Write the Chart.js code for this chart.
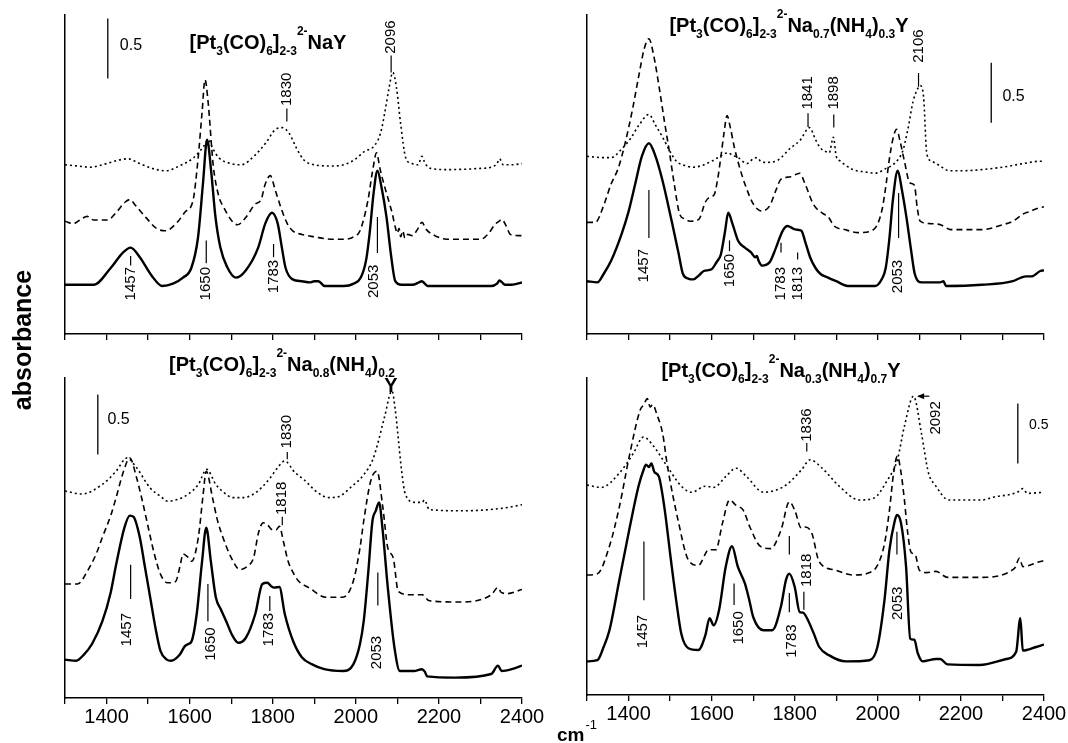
<!DOCTYPE html>
<html>
<head>
<meta charset="utf-8">
<script src="https://cdn.jsdelivr.net/npm/chart.js@4.4.1/dist/chart.umd.min.js"></script>
<style>
  html, body { margin: 0; padding: 0; background: #fff; }
  #wrap { position: relative; width: 1068px; height: 743px; overflow: hidden; background: #fff; }
  #wrap canvas { position: absolute; left: 0; top: 0; }
</style>
</head>
<body>
<div id="wrap">
  <canvas id="tl" width="1068" height="743"></canvas>
  <canvas id="tr" width="1068" height="743"></canvas>
  <canvas id="bl" width="1068" height="743"></canvas>
  <canvas id="br" width="1068" height="743"></canvas>
</div>
<script>
// ---- spectra: wavenumber (cm-1) / absorbance (offset) ----
const labeledTicks = [1400, 1600, 1800, 2000, 2200, 2400];

// top left: NaY
const tlSolidWn  = [1300,1369,1410,1440,1458,1480,1510,1534,1560,1584,1604,1620,1632,1642,1652,1662,1674,1690,1711,1735,1765,1782,1798,1812,1822,1831,1848,1870,1889,1900,1910,1925,1971,1995,2012,2025,2033,2043,2052,2062,2074,2085,2095,2110,2136,2152,2159,2166,2173,2326,2340,2346,2352,2359,2375,2400];
const tlSolidAbs = [0.41,0.41,0.55,0.68,0.72,0.64,0.48,0.40,0.42,0.47,0.55,0.80,1.25,1.62,1.35,0.98,0.72,0.56,0.47,0.53,0.72,0.92,1.01,0.92,0.72,0.55,0.455,0.44,0.43,0.44,0.44,0.40,0.40,0.42,0.47,0.62,0.83,1.18,1.36,1.22,0.97,0.65,0.44,0.41,0.41,0.43,0.44,0.42,0.40,0.40,0.42,0.447,0.43,0.41,0.41,0.43];
const tlDashWn   = [1300,1320,1340,1353,1369,1402,1425,1445,1456,1470,1495,1520,1542,1570,1590,1608,1620,1630,1637,1644,1657,1670,1683,1700,1715,1735,1757,1772,1782,1794,1806,1820,1835,1848,1870,1900,1940,1971,1995,2010,2029,2040,2050,2058,2070,2080,2088,2095,2100,2104,2108,2113,2118,2125,2136,2150,2159,2170,2190,2219,2301,2320,2334,2345,2351,2362,2372,2392,2400];
const tlDashAbs  = [0.94,0.92,0.96,0.98,0.95,0.95,1.02,1.10,1.12,1.07,0.97,0.88,0.86,0.93,1.02,1.11,1.45,1.85,2.12,1.95,1.40,1.15,1.05,0.95,0.91,0.97,1.08,1.12,1.25,1.32,1.20,1.05,0.92,0.86,0.83,0.81,0.79,0.79,0.81,0.86,1.11,1.35,1.51,1.38,1.22,1.10,1.00,0.89,0.84,0.88,0.81,0.86,0.80,0.83,0.82,0.88,0.93,0.87,0.82,0.79,0.79,0.84,0.91,0.94,0.955,0.90,0.83,0.82,0.82];
const tlDotWn    = [1300,1330,1360,1400,1430,1452,1480,1510,1542,1575,1610,1633,1645,1655,1670,1700,1724,1760,1785,1805,1823,1840,1857,1875,1900,1940,1971,2000,2020,2045,2060,2070,2080,2089,2098,2108,2120,2135,2150,2159,2167,2180,2219,2300,2326,2340,2346,2355,2375,2400];
const tlDotAbs   = [1.41,1.40,1.39,1.42,1.45,1.46,1.42,1.38,1.36,1.40,1.47,1.56,1.62,1.55,1.47,1.42,1.41,1.50,1.60,1.70,1.72,1.67,1.55,1.45,1.41,1.40,1.41,1.46,1.52,1.57,1.68,1.85,2.05,2.18,2.05,1.75,1.47,1.42,1.41,1.48,1.42,1.38,1.37,1.38,1.39,1.42,1.46,1.41,1.41,1.42];

// top right: Na0.7(NH4)0.3Y
const trSolidWn  = [1300,1325,1340,1358,1383,1400,1416,1432,1449,1465,1482,1495,1507,1520,1531,1545,1556,1570,1581,1600,1612,1622,1632,1640,1650,1664,1680,1695,1705,1709,1713,1721,1740,1755,1771,1783,1795,1804,1816,1826,1837,1850,1862,1880,1900,1928,1994,2010,2019,2028,2036,2048,2058,2069,2080,2089,2106,2150,2158,2164,2250,2325,2345,2357,2370,2391,2400];
const trSolidAbs = [0.44,0.43,0.50,0.61,0.83,1.02,1.25,1.48,1.59,1.48,1.275,1.08,0.89,0.68,0.50,0.46,0.455,0.49,0.525,0.54,0.60,0.66,0.85,1.01,0.92,0.775,0.72,0.68,0.64,0.65,0.61,0.57,0.60,0.72,0.86,0.90,0.88,0.87,0.86,0.76,0.64,0.55,0.50,0.47,0.44,0.40,0.40,0.46,0.55,0.80,1.11,1.36,1.20,0.97,0.70,0.50,0.43,0.43,0.44,0.40,0.41,0.44,0.47,0.48,0.48,0.525,0.53];
const trDashWn   = [1300,1320,1340,1358,1375,1391,1410,1424,1438,1449,1460,1474,1486,1498,1510,1523,1535,1548,1569,1585,1595,1606,1614,1622,1630,1637,1645,1655,1668,1680,1701,1721,1740,1755,1767,1790,1812,1825,1845,1870,1880,1895,1920,1953,1985,2000,2011,2020,2027,2036,2045,2054,2064,2077,2088,2095,2102,2125,2151,2176,2250,2300,2325,2350,2365,2387,2400];
const trDashAbs  = [0.93,0.93,1.07,1.25,1.38,1.58,1.88,2.14,2.38,2.46,2.33,2.05,1.78,1.525,1.25,1.00,0.96,0.94,0.955,1.10,1.14,1.16,1.28,1.47,1.68,1.82,1.72,1.55,1.38,1.25,1.08,1.025,1.07,1.20,1.29,1.31,1.34,1.25,1.08,1.00,0.98,0.90,0.87,0.845,0.86,0.92,1.05,1.25,1.44,1.62,1.705,1.60,1.44,1.26,1.24,1.05,0.94,0.92,0.91,0.87,0.87,0.91,0.94,1.00,1.02,1.05,1.06];
const trDotWn    = [1300,1340,1358,1383,1405,1425,1449,1465,1482,1500,1515,1540,1556,1600,1625,1639,1650,1664,1685,1700,1709,1718,1730,1760,1790,1812,1836,1850,1862,1875,1883,1893,1900,1910,1940,1970,1994,2020,2036,2050,2060,2072,2085,2094,2102,2110,2118,2130,2150,2172,2200,2250,2300,2350,2391,2400];
const trDotAbs   = [1.48,1.47,1.47,1.54,1.63,1.74,1.83,1.74,1.64,1.52,1.44,1.40,1.39,1.44,1.49,1.51,1.49,1.47,1.42,1.46,1.47,1.44,1.43,1.45,1.55,1.61,1.72,1.62,1.55,1.52,1.51,1.64,1.48,1.44,1.37,1.35,1.34,1.38,1.41,1.46,1.525,1.70,1.94,2.03,2.07,1.98,1.50,1.44,1.40,1.36,1.36,1.37,1.39,1.42,1.44,1.44];

// bottom left: Na0.8(NH4)0.2Y
const blSolidWn  = [1300,1327,1345,1365,1390,1410,1423,1443,1456,1465,1480,1492,1505,1518,1530,1545,1555,1576,1588,1597,1605,1617,1630,1640,1651,1663,1675,1688,1703,1717,1735,1758,1775,1787,1797,1804,1816,1829,1849,1870,1895,1924,1969,1994,2010,2019,2030,2040,2048,2056,2064,2077,2093,2106,2140,2159,2166,2172,2240,2326,2342,2351,2375,2400];
const blSolidAbs = [0.32,0.31,0.36,0.45,0.64,0.88,1.11,1.42,1.52,1.51,1.34,1.10,0.84,0.58,0.39,0.32,0.31,0.36,0.43,0.45,0.475,0.70,1.14,1.42,1.14,0.84,0.74,0.64,0.52,0.46,0.50,0.70,0.95,0.96,0.93,0.92,0.925,0.70,0.475,0.34,0.28,0.24,0.225,0.28,0.45,0.64,1.05,1.475,1.56,1.63,1.42,0.92,0.42,0.225,0.225,0.24,0.22,0.18,0.17,0.20,0.27,0.225,0.24,0.27];
const blDashWn   = [1300,1330,1356,1375,1390,1410,1423,1440,1456,1472,1485,1497,1515,1530,1547,1566,1577,1584,1594,1605,1621,1632,1640,1655,1667,1680,1700,1721,1740,1754,1766,1777,1788,1800,1808,1816,1826,1837,1850,1862,1887,1928,1969,1994,2010,2019,2036,2051,2065,2077,2090,2102,2130,2160,2177,2250,2326,2342,2350,2365,2400];
const blDashAbs  = [0.95,0.95,1.07,1.20,1.34,1.52,1.67,1.88,2.00,1.84,1.66,1.475,1.20,1.03,0.96,0.97,1.10,1.20,1.18,1.14,1.34,1.68,1.89,1.67,1.48,1.34,1.17,1.07,1.10,1.17,1.38,1.46,1.44,1.40,1.40,1.43,1.30,1.14,1.04,0.975,0.92,0.84,0.84,0.975,1.25,1.475,1.81,1.89,1.59,1.25,1.17,0.89,0.86,0.86,0.81,0.80,0.86,0.92,0.88,0.87,0.905];
const blDotWn    = [1300,1340,1390,1423,1449,1472,1505,1530,1547,1575,1597,1621,1641,1663,1680,1704,1730,1754,1775,1795,1812,1829,1853,1875,1887,1903,1936,1960,1986,2019,2040,2052,2069,2087,2095,2102,2110,2119,2143,2160,2165,2177,2259,2350,2400];
const blDotAbs   = [1.725,1.70,1.78,1.89,2.00,1.92,1.75,1.68,1.64,1.66,1.70,1.78,1.905,1.78,1.72,1.67,1.67,1.70,1.76,1.84,1.92,1.975,1.88,1.82,1.78,1.725,1.67,1.68,1.75,1.86,1.98,2.11,2.34,2.56,2.40,2.17,1.90,1.70,1.63,1.63,1.65,1.57,1.56,1.58,1.61];

// bottom right: Na0.3(NH4)0.7Y
const brSolidWn  = [1300,1325,1340,1354,1378,1403,1424,1436,1442,1449,1455,1462,1473,1486,1502,1515,1527,1544,1568,1585,1595,1605,1618,1634,1649,1663,1680,1690,1700,1725,1746,1767,1779,1787,1800,1812,1820,1828,1845,1859,1883,1923,1980,1999,2016,2028,2040,2046,2056,2068,2078,2088,2096,2108,2140,2150,2168,2245,2309,2333,2343,2349,2381,2400];
const brSolidAbs = [0.28,0.29,0.40,0.54,0.96,1.40,1.74,1.875,1.92,1.90,1.93,1.86,1.82,1.57,1.125,0.78,0.51,0.39,0.375,0.50,0.64,0.58,0.71,1.07,1.24,1.07,0.93,0.80,0.65,0.54,0.54,0.74,0.96,1.01,0.90,0.69,0.686,0.65,0.52,0.40,0.33,0.28,0.29,0.40,0.79,1.21,1.44,1.50,1.43,1.07,0.47,0.46,0.35,0.28,0.30,0.30,0.255,0.25,0.30,0.36,0.64,0.37,0.40,0.42];
const brDashWn   = [1300,1325,1354,1378,1403,1428,1437,1445,1452,1458,1469,1482,1494,1519,1544,1568,1593,1610,1626,1643,1659,1676,1692,1717,1742,1767,1787,1800,1816,1825,1841,1859,1899,1939,1980,1999,2016,2028,2038,2047,2056,2064,2072,2080,2090,2100,2116,2140,2168,2245,2329,2341,2349,2389,2400];
const brDashAbs  = [1.00,1.01,1.24,1.57,2.01,2.375,2.42,2.47,2.40,2.42,2.33,2.18,1.90,1.46,1.125,1.08,1.21,1.21,1.43,1.625,1.58,1.54,1.40,1.24,1.22,1.375,1.61,1.54,1.39,1.40,1.35,1.11,1.04,1.00,1.02,1.08,1.26,1.54,1.85,1.99,1.85,1.625,1.35,1.19,1.17,1.04,1.02,1.03,0.98,0.98,1.055,1.14,1.07,1.11,1.12];
const brDotWn    = [1300,1335,1378,1411,1436,1461,1494,1527,1552,1585,1605,1634,1659,1684,1725,1775,1816,1837,1866,1907,1956,1990,2023,2047,2064,2086,2105,2122,2138,2171,2250,2280,2336,2349,2360,2400];
const brDotAbs   = [1.75,1.73,1.85,2.01,2.15,2.07,1.90,1.74,1.69,1.74,1.73,1.82,1.89,1.82,1.69,1.74,1.875,1.96,1.89,1.74,1.625,1.64,1.79,1.96,2.24,2.49,2.18,1.85,1.75,1.625,1.625,1.65,1.69,1.72,1.68,1.69];

// ---- peak labels: text, wavenumber, absorbance where the text starts ----
const tlPeakText = ['1457','1650','1783','2053','1830','2096'];
const tlPeakWn   = [1458,1640,1802,2043,1834,2085];
const tlPeakAt   = [0.28,0.28,0.34,0.30,1.90,2.335];
const tlMarkWn   = [1458,1640,1802,2052,1834,2085];
const tlMarkFrom = [0.57,0.59,0.64,0.675,1.77,2.18];
const tlMarkTo   = [0.65,0.78,0.75,0.975,1.88,2.32];

const trPeakText = ['1457','1650','1783','1813','2053','1841','1898','2106'];
const trPeakWn   = [1436,1643,1767,1807,2048,1832,1894,2098];
const trPeakAt   = [0.43,0.39,0.28,0.28,0.34,1.87,1.87,2.26];
const trMarkWn   = [1449,1643,1767,1807,2050,1832,1894,2098];
const trMarkFrom = [0.80,0.69,0.68,0.62,0.80,1.725,1.72,2.06];
const trMarkTo   = [1.20,0.78,0.76,0.68,1.175,1.84,1.83,2.175];

const blPeakText = ['1457','1650','1783','2053','1830','1818'];
const blPeakWn   = [1450,1650,1791,2051,1835,1823];
const blPeakAt   = [0.43,0.31,0.43,0.24,2.08,1.525];
const blMarkWn   = [1458,1644,1793,2053,1835,1823];
const blMarkFrom = [0.825,0.64,0.725,0.77,1.99,1.44];
const blMarkTo   = [1.11,0.95,0.85,1.045,2.05,1.51];

const brPeakText = ['1457','1650','1783','1818','2053','1836','2092'];
const brPeakWn   = [1435,1665,1793,1830,2048,1829,2140];
const brPeakAt   = [0.39,0.42,0.31,0.90,0.625,2.11,2.17];
const brMarkWn   = [1437,1654,1787,1787,1822,2046,1829];
const brMarkFrom = [0.79,0.75,0.69,1.17,0.71,1.17,2.03];
const brMarkTo   = [1.28,0.93,0.85,1.325,0.86,1.36,2.10];

// 0.5 absorbance scale bars: wavenumber, bottom
const barWn  = { tl: 1403, tr: 2273, bl: 1379, br: 2337 };
const barLow = { tl: 2.13, tr: 1.76, bl: 2.03, br: 1.93 };

// titles: [text, 0 normal / 1 subscript / 2 superscript]
const head = [['[Pt',0],['3',1],['(CO)',0],['6',1],[']',0],['2-3',1],['2-',2]];
const tlTitle = head.concat([['NaY',0]]);
const trTitle = head.concat([['Na',0],['0.7',1],['(NH',0],['4',1],[')',0],['0.3',1],['Y',0]]);
const blTitle = head.concat([['Na',0],['0.8',1],['(NH',0],['4',1],[')',0],['0.2',1]]);
const brTitle = head.concat([['Na',0],['0.3',1],['(NH',0],['4',1],[')',0],['0.7',1],['Y',0]]);

// ---- layout ----
const FONT = "'Liberation Sans', Arial, Helvetica, sans-serif";
const PX_PER_ABS = 120;
const W = 1068, H = 743;
const X_AXIS_H = 30;
const boxes = {
  tl: { left: 65,  top: 15,  right: 522,  bottom: 334 },
  tr: { left: 587, top: 15,  right: 1044, bottom: 334 },
  bl: { left: 65,  top: 378, right: 522,  bottom: 698 },
  br: { left: 587, top: 378, right: 1044, bottom: 695 }
};
const titleAt = { tl: [268, 49], tr: [789, 32], bl: [282, 371], br: [781, 377] };

Chart.defaults.font.family = FONT;
Chart.defaults.color = '#000';

function pts(wn, abs) {
  return wn.map((w, i) => ({ x: w, y: abs[i] }));
}

function richText(ctx, parts, cx, base, size) {
  const sub = Math.round(size * 0.6);
  const fontOf = m => 'bold ' + (m ? sub : size) + 'px ' + FONT;
  let total = 0;
  parts.forEach(p => { ctx.font = fontOf(p[1]); total += ctx.measureText(p[0]).width; });
  let x = cx - total / 2;
  ctx.textAlign = 'left';
  ctx.textBaseline = 'alphabetic';
  parts.forEach(p => {
    ctx.font = fontOf(p[1]);
    const dy = p[1] === 1 ? size * 0.28 : (p[1] === 2 ? -size * 0.68 : 0);
    ctx.fillText(p[0], x, base + dy);
    x += ctx.measureText(p[0]).width;
  });
}

function vText(ctx, text, x, y, font) {
  ctx.save();
  ctx.translate(x, y);
  ctx.rotate(-Math.PI / 2);
  ctx.font = font;
  ctx.textAlign = 'left';
  ctx.textBaseline = 'middle';
  ctx.fillText(text, 0, 0);
  ctx.restore();
}

const notes = {
  tl: { text: tlPeakText, wn: tlPeakWn, at: tlPeakAt, mWn: tlMarkWn, mFrom: tlMarkFrom, mTo: tlMarkTo, title: tlTitle, barText: [1432, 2.40, 16] },
  tr: { text: trPeakText, wn: trPeakWn, at: trPeakAt, mWn: trMarkWn, mFrom: trMarkFrom, mTo: trMarkTo, title: trTitle, barText: [2300, 1.975, 16] },
  bl: { text: blPeakText, wn: blPeakWn, at: blPeakAt, mWn: blMarkWn, mFrom: blMarkFrom, mTo: blMarkTo, title: blTitle, barText: [1402, 2.32, 16] },
  br: { text: brPeakText, wn: brPeakWn, at: brPeakAt, mWn: brMarkWn, mFrom: brMarkFrom, mTo: brMarkTo, title: brTitle, barText: [2364, 2.25, 14] }
};

const annotPlugin = {
  id: 'annot',
  afterDatasetsDraw(chart) {
    const id = chart.canvas.id;
    const n = notes[id];
    const ctx = chart.ctx;
    const px = v => chart.scales.x.getPixelForValue(v);
    const py = v => chart.scales.y.getPixelForValue(v);
    ctx.save();
    ctx.fillStyle = '#000';
    ctx.strokeStyle = '#000';

    // peak marker lines
    ctx.lineWidth = 1.2;
    n.mWn.forEach((w, i) => {
      ctx.beginPath();
      ctx.moveTo(px(w), py(n.mFrom[i]));
      ctx.lineTo(px(w), py(n.mTo[i]));
      ctx.stroke();
    });
    // peak labels
    n.text.forEach((t, i) => vText(ctx, t, px(n.wn[i]), py(n.at[i]), '15px ' + FONT));

    // 0.5 scale bar
    ctx.lineWidth = 1.3;
    ctx.beginPath();
    ctx.moveTo(px(barWn[id]), py(barLow[id]));
    ctx.lineTo(px(barWn[id]), py(barLow[id] + 0.5));
    ctx.stroke();
    ctx.font = n.barText[2] + 'px ' + FONT;
    ctx.textAlign = 'left';
    ctx.textBaseline = 'middle';
    ctx.fillText('0.5', px(n.barText[0]), py(n.barText[1]));

    // title
    richText(ctx, n.title, titleAt[id][0], titleAt[id][1], 20);

    if (id === 'bl') {
      ctx.font = 'bold 20px ' + FONT;
      ctx.textAlign = 'center';
      ctx.textBaseline = 'alphabetic';
      ctx.fillText('Y', 391, 392);
      // shared axis titles
      ctx.save();
      ctx.translate(24, 340);
      ctx.rotate(-Math.PI / 2);
      ctx.font = 'bold 25px ' + FONT;
      ctx.textAlign = 'center';
      ctx.textBaseline = 'middle';
      ctx.fillText('absorbance', 0, 0);
      ctx.restore();
    }
    if (id === 'br') {
      // arrow pointing at the 2092 band
      const y = py(2.49), x1 = px(2124), x2 = px(2097);
      ctx.lineWidth = 1.2;
      ctx.beginPath();
      ctx.moveTo(x1, y);
      ctx.lineTo(x2, y);
      ctx.stroke();
      ctx.beginPath();
      ctx.moveTo(x2 - 1, y);
      ctx.lineTo(x2 + 6, y - 3);
      ctx.lineTo(x2 + 6, y + 3);
      ctx.closePath();
      ctx.fill();
      ctx.font = 'bold 19px ' + FONT;
      ctx.textAlign = 'left';
      ctx.textBaseline = 'alphabetic';
      ctx.fillText('cm', 557, 741);
      const cmW = ctx.measureText('cm').width;
      ctx.font = '13px ' + FONT;
      ctx.fillText('-1', 557 + cmW + 1, 729);
    }
    ctx.restore();
  }
};

function makePanel(id, solid, dash, dot, withLabels) {
  const b = boxes[id];
  const yMax = (b.bottom - b.top) / PX_PER_ABS;
  const xh = withLabels ? X_AXIS_H : 0;
  const line = (data, width, dashPattern) => ({
    data: data,
    borderColor: '#000',
    borderWidth: width,
    borderDash: dashPattern,
    pointRadius: 0,
    fill: false,
    cubicInterpolationMode: 'monotone'
  });
  return new Chart(document.getElementById(id), {
    type: 'line',
    data: {
      datasets: [
        line(dot, 1.6, [2, 3]),
        line(dash, 1.6, [6, 4]),
        line(solid, 2.4, [])
      ]
    },
    options: {
      responsive: false,
      animation: false,
      events: [],
      layout: { padding: { left: b.left, top: b.top, right: W - b.right, bottom: H - b.bottom - xh } },
      plugins: { legend: { display: false }, tooltip: { enabled: false } },
      scales: {
        x: {
          type: 'linear',
          min: 1300,
          max: 2400,
          afterFit(scale) { scale.height = xh; },
          border: { display: true, color: '#000', width: 1.5 },
          grid: { display: true, drawOnChartArea: false, drawTicks: true, tickLength: 6, color: '#000', lineWidth: 1.3 },
          ticks: {
            display: withLabels,
            stepSize: 100,
            autoSkip: false,
            maxRotation: 0,
            padding: 1,
            font: { size: 20 },
            color: '#000',
            callback: v => labeledTicks.includes(v) ? String(v) : ''
          }
        },
        y: {
          min: 0,
          max: yMax,
          afterFit(scale) { scale.width = 0; },
          border: { display: true, color: '#000', width: 1.5 },
          grid: { display: false },
          ticks: { display: false }
        }
      }
    },
    plugins: [annotPlugin]
  });
}

makePanel('tl', pts(tlSolidWn, tlSolidAbs), pts(tlDashWn, tlDashAbs), pts(tlDotWn, tlDotAbs), false);
makePanel('tr', pts(trSolidWn, trSolidAbs), pts(trDashWn, trDashAbs), pts(trDotWn, trDotAbs), false);
makePanel('bl', pts(blSolidWn, blSolidAbs), pts(blDashWn, blDashAbs), pts(blDotWn, blDotAbs), true);
makePanel('br', pts(brSolidWn, brSolidAbs), pts(brDashWn, brDashAbs), pts(brDotWn, brDotAbs), true);
</script>
</body>
</html>
